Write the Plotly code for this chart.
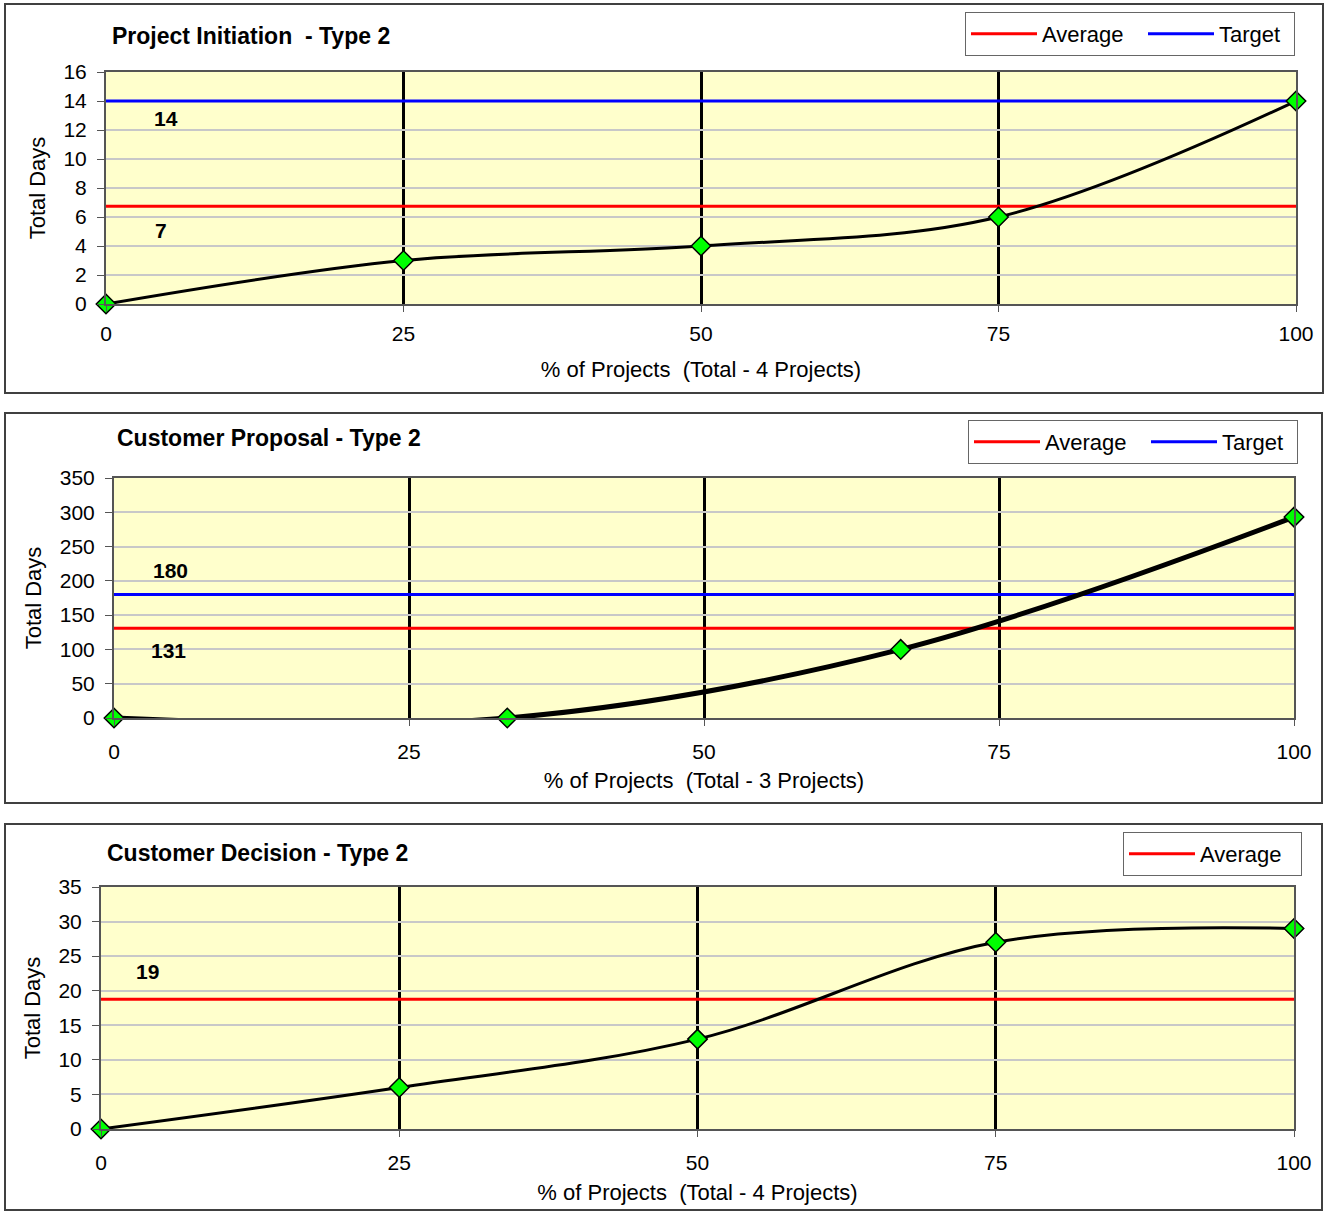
import plotly.graph_objects as go

W, H = 1333, 1211

# ---------------- data ----------------
x_ticks = [0, 25, 50, 75, 100]

p1_title = "Project Initiation  - Type 2"
p1_x = [0, 25, 50, 75, 100]
p1_y = [0, 3, 4, 6, 14]
p1_avg = 6.75
p1_target = 14
p1_xlabel = "% of Projects  (Total - 4 Projects)"

p2_title = "Customer Proposal - Type 2"
p2_x = [0, 33.33, 66.67, 100]
p2_y = [0, 0, 100, 293]
p2_avg = 131
p2_target = 180
p2_xlabel = "% of Projects  (Total - 3 Projects)"

p3_title = "Customer Decision - Type 2"
p3_x = [0, 25, 50, 75, 100]
p3_y = [0, 6, 13, 27, 29]
p3_avg = 18.75
p3_xlabel = "% of Projects  (Total - 4 Projects)"

FONT = "Liberation Sans, Arial, sans-serif"
RED = "#FF0000"
BLUE = "#0000FF"


def px(x):
    return x / W


def py(y):
    return 1 - y / H


fig = go.Figure()

# panel geometry in pixels: (plot left, right, top, bottom)
panels = [
    dict(xd=(106, 1296), yd=(72, 304), box=(5, 4, 1323, 393)),
    dict(xd=(114, 1294), yd=(478, 718), box=(5, 413, 1322, 803)),
    dict(xd=(101, 1294), yd=(887, 1129), box=(5, 824, 1322, 1210)),
]

span = [x_ticks[0], x_ticks[-1]]


def add_panel(i, xs, ys, avg, target, width, legend):
    xa = "x" if i == 1 else f"x{i}"
    ya = "y" if i == 1 else f"y{i}"
    fig.add_trace(go.Scatter(x=span, y=[avg, avg], mode="lines", name="Average",
                             line=dict(color=RED, width=3), xaxis=xa, yaxis=ya,
                             legend=legend, legendwidth=96, hoverinfo="skip"))
    if target is not None:
        fig.add_trace(go.Scatter(x=span, y=[target, target], mode="lines", name="Target",
                                 line=dict(color=BLUE, width=3), xaxis=xa, yaxis=ya,
                                 legend=legend, legendwidth=70, hoverinfo="skip"))
    fig.add_trace(go.Scatter(x=xs, y=ys, mode="lines+markers", showlegend=False,
                             cliponaxis=False,
                             line=dict(color="black", width=width, shape="spline", smoothing=1.0),
                             marker=dict(symbol="diamond", size=15, color="#00FF00",
                                         line=dict(color="black", width=1.5)),
                             xaxis=xa, yaxis=ya))


add_panel(1, p1_x, p1_y, p1_avg, p1_target, 3, "legend")
add_panel(2, p2_x, p2_y, p2_avg, p2_target, 5, "legend2")
add_panel(3, p3_x, p3_y, p3_avg, None, 3, "legend3")

layout = dict(
    width=W, height=H,
    margin=dict(l=0, r=0, t=0, b=0, pad=0),
    paper_bgcolor="white",
    plot_bgcolor="#FFFFCC",
    font=dict(family=FONT, size=21, color="black"),
    showlegend=True,
)

yranges = [(0, 16, 2), (0, 350, 50), (0, 35, 5)]
xlabels = [p1_xlabel, p2_xlabel, p3_xlabel]
xstand = [17, 10, 11]
xlabstand = [4, 8, 8]
for k, p in enumerate(panels):
    n = "" if k == 0 else str(k + 1)
    layout["xaxis" + n] = dict(
        domain=[px(p["xd"][0]), px(p["xd"][1])],
        anchor="y" + n, automargin=False,
        range=span, tickvals=x_ticks, ticktext=[str(t) for t in x_ticks],
        showgrid=True, gridcolor="black", gridwidth=3,
        ticks="outside", ticklen=6, tickcolor="#555", tickwidth=1,
        showline=True, linecolor="#555", linewidth=2, mirror=True,
        zeroline=False, ticklabelstandoff=xlabstand[k],
        tickfont=dict(size=21),
        title=dict(text=xlabels[k], font=dict(size=22), standoff=xstand[k]),
    )
    y0, y1, dy = yranges[k]
    layout["yaxis" + n] = dict(
        domain=[py(p["yd"][1]), py(p["yd"][0])],
        anchor="x" + n, automargin=False,
        range=[y0, y1], dtick=dy,
        showgrid=True, gridcolor="#C8C8C8", gridwidth=1.5,
        ticks="outside", ticklen=7, tickcolor="#555",
        showline=True, linecolor="#555", linewidth=2, mirror=True,
        zeroline=False, ticklabelstandoff=6,
        tickfont=dict(size=21),
        title=dict(text="Total Days", font=dict(size=22), standoff=12),
    )

legend_common = dict(orientation="h", bgcolor="white", bordercolor="#666", borderwidth=1,
                     font=dict(size=22), xanchor="left", yanchor="top", itemwidth=66,
                     tracegroupgap=0)
layout["legend"] = dict(x=px(965), y=py(12), **legend_common)
layout["legend2"] = dict(x=px(968), y=py(420), **legend_common)
layout["legend3"] = dict(x=px(1123), y=py(832), **legend_common)

fig.update_layout(**layout)

# panel frames
for p in panels:
    x0, y0, x1, y1 = p["box"]
    fig.add_shape(type="rect", xref="paper", yref="paper",
                  x0=px(x0), x1=px(x1), y0=py(y1), y1=py(y0),
                  line=dict(color="#404040", width=2), layer="below")

# titles
titles = [(p1_title, 110, 36), (p2_title, 115, 438), (p3_title, 105, 853)]
for t, x, y in titles:
    fig.add_annotation(text=f"<b>{t}</b>", xref="paper", yref="paper", x=px(x), y=py(y),
                       xanchor="left", yanchor="middle", showarrow=False,
                       font=dict(size=23, family=FONT))

# value labels
labels = [
    ("x", "y", 5.0, p1_target, -17),
    ("x", "y", 4.6, p1_avg, -24),
    ("x2", "y2", 4.75, p2_target, 24),
    ("x2", "y2", 4.6, p2_avg, -22),
    ("x3", "y3", 3.9, p3_avg, 28),
]
for xr, yr, xv, yv, ys in labels:
    fig.add_annotation(text=f"<b>{round(yv)}</b>", xref=xr, yref=yr, x=xv, y=yv, yshift=ys,
                       showarrow=False, font=dict(size=21, family=FONT))

fig.write_html(
    "out.html",
    config={"displayModeBar": False},
    post_script="document.body.style.margin='0';document.body.style.padding='0';"
                "document.documentElement.style.overflow='hidden';",
)
